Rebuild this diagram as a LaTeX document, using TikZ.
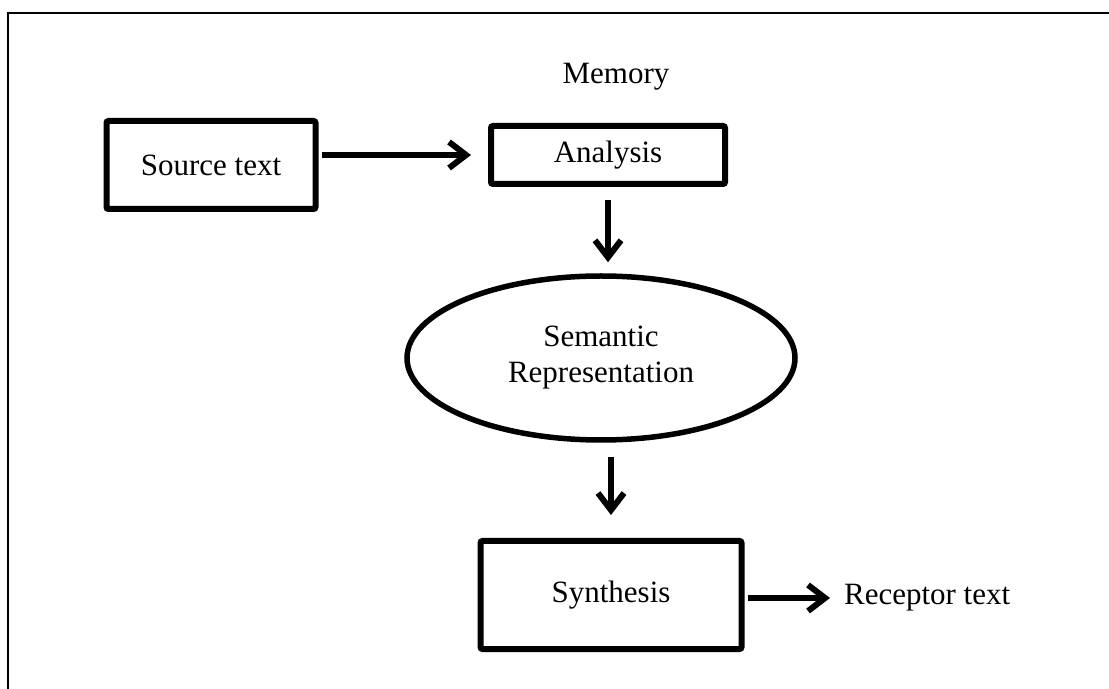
\documentclass[tikz,border=0pt]{standalone}
\usepackage{fontspec}
\setmainfont{Liberation Serif}
\usetikzlibrary{arrows.meta,shapes.geometric}

\begin{document}
\begin{tikzpicture}[x=0.5pt,y=-0.5pt]
							\tikzstyle{box}=[rectangle,draw=black,line width=3pt,rounded corners=1pt,font=\fontsize{15.5}{18}\selectfont]
							\tikzstyle{txt}=[font=\fontsize{15.5}{18}\selectfont]
							\tikzstyle{arr}=[line width=3pt,-{Straight Barb[length=8.5pt,width=13pt]}]
							\useasboundingbox (0,0) rectangle (1109,689);
							\draw[line width=1pt] (8,689) -- (8,13) -- (1109,13);
							\node[box,minimum width=104.5pt,minimum height=44pt] (1) at (211,165) {Source text};
							\node[box,minimum width=117pt,minimum height=29pt] (2) at (608,155) {Analysis};
							\node[txt] (m) at (616,77) {Memory};
							\node[ellipse,draw=black,line width=2.75pt,minimum width=194pt,minimum height=82pt,align=center,font=\fontsize{15.5}{18}\selectfont] (3) at (601,358) {Semantic\\Representation};
							\node[box,minimum width=130.5pt,minimum height=54pt] (4) at (611,595) {Synthesis};
							\node[txt,anchor=west] (5) at (837,598) {Receptor text};
							\draw[arr,shorten <=1.5pt,shorten >=8.5pt] (1.east |- 2.west) -- (2.west);
							\draw[arr,shorten <=6.5pt,shorten >=5.5pt] (2.south) -- (2.south |- 3.north);
							\draw[arr,shorten <=7pt,shorten >=11.5pt] (4.north |- 3.south) -- (4.north);
							\draw[arr,shorten <=1.5pt,shorten >=3.5pt] (4.east |- 5.west) -- (5.west);
							\end{tikzpicture}
\end{document}
